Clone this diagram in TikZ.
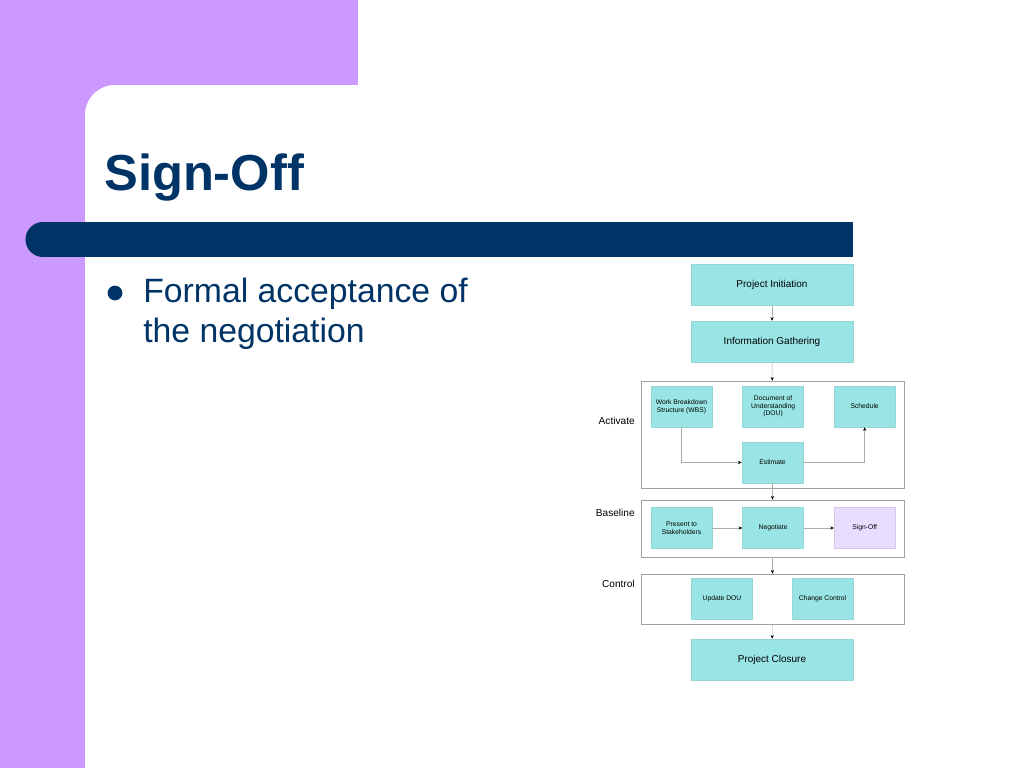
\documentclass[tikz,border=0pt]{standalone}
\usepackage{fontspec}
\setmainfont{Liberation Sans}
\usepackage{xcolor}
\usetikzlibrary{positioning, arrows.meta}

\definecolor{slidelilac}{RGB}{204,153,255}
\definecolor{slidenavy}{RGB}{0,51,102}
\definecolor{boxfill}{RGB}{153,229,229}
\definecolor{signfill}{RGB}{232,220,255}

\begin{document}
\begin{tikzpicture}[
        x=0.025cm, y=-0.025cm,
        box/.style={fill=boxfill, draw=boxfill!85!gray, minimum width=1.525cm, minimum height=1.025cm, font=\fontsize{4.8}{5.4}\selectfont, align=center, inner sep=1pt},
        bigbox/.style={box, minimum width=4.05cm, font=\fontsize{7.1}{8.5}\selectfont},
        frame/.style={draw=gray!75, fill=white, minimum width=6.575cm, inner sep=0pt},
        phase/.style={anchor=east, font=\fontsize{7.2}{8.5}\selectfont, inner sep=0pt},
        flow/.style={-{Stealth[length=2.6pt, width=2.2pt, black]}, gray!65, line width=0.3pt}
    ]
    \useasboundingbox (0,0) rectangle (1024,768);

    % Slide background
    \fill[slidelilac] (0,0) rectangle (358,120);
    \fill[slidelilac] (0,0) rectangle (85,768);
    \fill[white] (85,768) [rounded corners=0.75cm] -- (85,85) [sharp corners] -- (1024,85) -- (1024,768) -- cycle;
    \fill[slidelilac] (0,0) rectangle (358,85);
    \fill[slidenavy] (43,222) rectangle (853,257);
    \fill[slidenavy] (43,239.5) circle[radius=0.4375cm];

    % Title and bullet
    \node[anchor=base west, inner sep=0pt, text=slidenavy, font=\fontsize{36}{43}\selectfont\bfseries] (title) at (104,190) {Sign-Off};
    \node[circle, fill=slidenavy, minimum size=0.37cm, inner sep=0pt] (dot) at (115,293) {};
    \node[anchor=base west, inner sep=0pt, text=slidenavy, align=left, font=\fontsize{24}{28.4}\selectfont] (point) at (143,342) {Formal acceptance of\\the negotiation};

    % Phase frames
    \node[frame, minimum height=2.675cm] (activate) at (772.5,434.5) {};
    \node[frame, minimum height=1.425cm] (baseline) at (772.5,528.5) {};
    \node[frame, minimum height=1.25cm] (control) at (772.5,599) {};
    \node[phase] (lactivate) at (635,421) {Activate};
    \node[phase] (lbaseline) at (635,513) {Baseline};
    \node[phase] (lcontrol) at (635,584) {Control};

    % Top and bottom steps
    \node[bigbox] (init) at (772,285) {Project Initiation};
    \node[bigbox, below=0.375cm of init] (gather) {Information Gathering};
    \node[bigbox] (closure) at (772,659.5) {Project Closure};

    % Activate
    \node[box] (wbs) at (681.5,406.5) {Work Breakdown\\Structure (WBS)};
    \node[box, right=0.75cm of wbs] (dou) {Document of\\Understanding\\(DOU)};
    \node[box, right=0.75cm of dou] (sched) {Schedule};
    \node[box] (est) at (772.5,462.5) {Estimate};

    % Baseline
    \node[box] (present) at (681.5,528) {Present to\\Stakeholders};
    \node[box, right=0.75cm of present] (negot) {Negotiate};
    \node[box, right=0.75cm of negot, fill=signfill, draw=signfill!80!gray] (signoff) {Sign-Off};

    % Control
    \node[box] (update) at (722,599) {Update DOU};
    \node[box] (change) at (822.5,599) {Change Control};

    % Connectors
    \draw[flow] (init) -- (gather);
    \draw[flow] (gather) -- (activate);
    \draw[flow] (est.south) -- (baseline.north);
    \draw[flow] (baseline) -- (control);
    \draw[flow] (control) -- (closure);
    \draw[flow] (wbs.south) |- (est.west);
    \draw[flow] (est.east) -| (sched.south);
    \draw[flow] (present) -- (negot);
    \draw[flow] (negot) -- (signoff);

    \end{tikzpicture}
\end{document}
